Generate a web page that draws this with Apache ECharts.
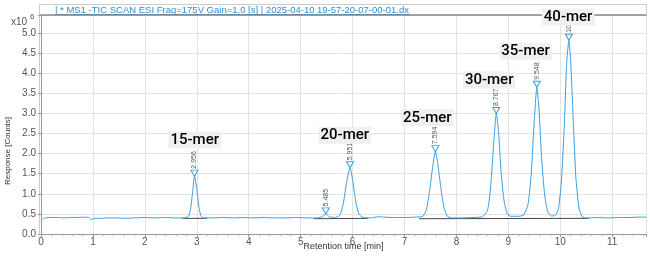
<!DOCTYPE html>
<html>
<head>
<meta charset="utf-8">
<script src="https://cdn.jsdelivr.net/npm/echarts@6/dist/echarts.min.js"></script>
<style>
  html, body { margin: 0; padding: 0; background: #fff; }
  #chart { width: 650px; height: 256px; }
</style>
</head>
<body>
<div id="chart"></div>
<script>
// ── Data (retention time [min], response [x10^6 counts]) ─────────────────────
const ticTrace = [
  [0.03,0.37],[0.08,0.40],[0.2,0.41],[0.35,0.41],[0.45,0.40],[0.55,0.41],[0.7,0.41],[0.85,0.42],
  [0.92,0.41],[0.97,0.36],[1.02,0.39],[1.15,0.39],[1.3,0.40],[1.45,0.40],[1.6,0.39],[1.8,0.40],
  [2.0,0.41],[2.2,0.40],[2.4,0.41],[2.6,0.40],[2.75,0.40],[2.84,0.44],[2.88,0.62],[2.92,1.05],
  [2.956,1.44],[3.0,1.12],[3.04,0.68],[3.08,0.45],[3.13,0.40],[3.3,0.40],[3.5,0.41],[3.7,0.40],
  [3.9,0.41],[4.1,0.40],[4.3,0.41],[4.5,0.40],[4.7,0.40],[4.9,0.41],[5.1,0.40],[5.3,0.40],
  [5.42,0.43],[5.485,0.50],[5.55,0.43],[5.65,0.41],[5.75,0.46],[5.82,0.75],[5.88,1.25],[5.951,1.65],
  [6.0,1.35],[6.06,0.82],[6.12,0.50],[6.2,0.41],[6.35,0.40],[6.5,0.43],[6.6,0.42],[6.8,0.41],
  [7.0,0.41],[7.2,0.42],[7.35,0.44],[7.42,0.60],[7.48,1.05],[7.54,1.65],[7.594,2.05],[7.64,1.75],
  [7.7,1.15],[7.76,0.65],[7.82,0.45],[7.9,0.40],[8.1,0.40],[8.3,0.41],[8.5,0.43],[8.6,0.60],
  [8.66,1.20],[8.72,2.30],[8.767,3.00],[8.81,2.55],[8.86,1.55],[8.92,0.80],[8.98,0.50],[9.05,0.44],
  [9.2,0.44],[9.3,0.48],[9.38,0.75],[9.44,1.50],[9.5,2.85],[9.548,3.65],[9.59,3.10],[9.64,1.90],
  [9.7,0.95],[9.76,0.55],[9.83,0.45],[9.9,0.46],[9.96,0.60],[10.02,1.30],[10.08,2.80],[10.12,4.20],
  [10.165,4.82],[10.2,4.30],[10.25,2.80],[10.3,1.40],[10.36,0.65],[10.42,0.43],[10.5,0.40],[10.7,0.41],
  [10.9,0.40],[11.1,0.41],[11.3,0.41],[11.5,0.42],[11.65,0.42]
];

// apex markers with their retention-time labels
const peakTimes   = [2.956, 5.485, 5.951, 7.594, 8.767, 9.548, 10.165];
const peakHeights = [1.44, 0.50, 1.65, 2.05, 3.00, 3.65, 4.82];
const peakLabels  = ['2.956', '5.485', '5.951', '7.594', '8.767', '9.548', '10.165'];

// integration baselines
const baselines = [
  [[2.72, 0.39], [3.20, 0.39]],
  [[5.25, 0.38], [6.30, 0.39]],
  [[7.28, 0.38], [10.55, 0.39]]
];

// oligo annotations, placed in data space above each peak
const merNames = ['15-mer', '20-mer', '25-mer', '30-mer', '35-mer', '40-mer'];
const merPos   = [[2.96, 2.34], [5.85, 2.46], [7.44, 2.89], [8.63, 3.83], [9.33, 4.55], [10.15, 5.40]];

const yTicks = [0, 0.5, 1, 1.5, 2, 2.5, 3, 3.5, 4, 4.5, 5];

// ── Chart ────────────────────────────────────────────────────────────────────
const LINE = '#3a9ee0';
const FONT = 'Liberation Sans, Arial, sans-serif';
const chart = echarts.init(document.getElementById('chart'), null, { renderer: 'canvas' });

chart.setOption({
  animation: false,
  textStyle: { fontFamily: FONT },
  grid: { left: 41, right: 4, top: 15, bottom: 22, outerBoundsMode: 'none', containLabel: false },
  xAxis: [{
    type: 'value', min: 0, max: 11.65, interval: 1,
    axisLine: { lineStyle: { color: '#999' } },
    axisTick: { length: 3, lineStyle: { color: '#999' } },
    minorTick: { show: true, splitNumber: 5, length: 2, lineStyle: { color: '#aaa' } },
    splitLine: { lineStyle: { color: '#e3e3e3' } },
    axisLabel: { color: '#555', fontSize: 10, margin: 3,
      formatter: v => Number.isInteger(v) ? String(v) : '' },
    name: 'Retention time [min]', nameLocation: 'middle', nameGap: 13, nameMoveOverlap: false,
    nameTextStyle: { color: '#333', fontSize: 9, verticalAlign: 'middle' }
  }, {
    type: 'value', position: 'top', min: 0, max: 11.65,
    axisLine: { show: true, lineStyle: { color: '#888', width: 1.5 } },
    axisTick: { show: false }, axisLabel: { show: false }, splitLine: { show: false }
  }],
  yAxis: {
    type: 'value', min: 0, max: 5.45, interval: 0.5,
    axisLine: { show: true, lineStyle: { color: '#999' } },
    axisTick: { show: true, length: 3, lineStyle: { color: '#999' } },
    splitLine: { lineStyle: { color: '#e3e3e3' } },
    axisLabel: { color: '#555', fontSize: 10, margin: 5,
      formatter: v => yTicks.includes(+v.toFixed(2)) ? v.toFixed(1) : '' }
  },
  graphic: [
    { type: 'rect', shape: { x: 39.5, y: 4.5, width: 607, height: 230 },
      style: { fill: 'none', stroke: '#ccc', lineWidth: 1 }, silent: true, z: -1 },
    { type: 'text', x: 55, y: 5,
      style: { text: '| * MS1 -TIC SCAN ESI Frag=175V Gain=1.0 [s] | 2025-04-10 19-57-20-07-00-01.dx',
        fill: '#2f8fd6', fontSize: 9.5, fontFamily: FONT } },
    { type: 'line', shape: { x1: 55, y1: 14.5, x2: 410, y2: 14.5 },
      style: { stroke: '#2f8fd6', lineWidth: 1 } },
    { type: 'text', x: 11, y: 17,
      style: { text: 'x10', fill: '#555', fontSize: 10, fontFamily: FONT } },
    { type: 'text', x: 30, y: 13,
      style: { text: '6', fill: '#555', fontSize: 8, fontFamily: FONT } },
    { type: 'text', x: 4, y: 185, rotation: Math.PI / 2,
      style: { text: 'Response [Counts]', fill: '#333', fontSize: 8,
        fontFamily: 'Liberation Sans Narrow, Liberation Sans, sans-serif' } }
  ],
  series: [
    {
      type: 'line', data: ticTrace, showSymbol: false, smooth: 0.2,
      lineStyle: { color: LINE, width: 1 }, z: 3
    },
    ...baselines.map(seg => ({
      type: 'line', data: seg, showSymbol: false,
      lineStyle: { color: '#444', width: 1 }, z: 2
    })),
    {
      type: 'scatter',
      data: peakTimes.map((t, i) => [t, peakHeights[i]]),
      symbol: 'triangle', symbolRotate: 180, symbolSize: [7, 6], symbolOffset: [0, -3],
      itemStyle: { color: '#fff', borderColor: LINE, borderWidth: 1, opacity: 1 },
      labelLayout: { hideOverlap: false },
      label: {
        show: true, position: 'top', distance: 1, rotate: 90, align: 'left', verticalAlign: 'middle',
        fontSize: 7, color: '#4a5a6a', fontFamily: 'Liberation Sans Narrow, Liberation Sans, sans-serif',
        formatter: p => peakLabels[p.dataIndex]
      }, z: 4
    },
    {
      type: 'scatter', data: merPos, symbol: 'circle', symbolSize: 2,
      itemStyle: { color: 'rgba(0,0,0,0)', opacity: 1 },
      label: {
        show: true, position: 'inside', fontSize: 15, color: '#000', fontWeight: 500,
        fontFamily: 'Roboto, Liberation Sans, sans-serif',
        backgroundColor: '#f0f0f0', padding: [1, 2],
        formatter: p => merNames[p.dataIndex]
      }, z: 5
    }
  ]
});
</script>
</body>
</html>
